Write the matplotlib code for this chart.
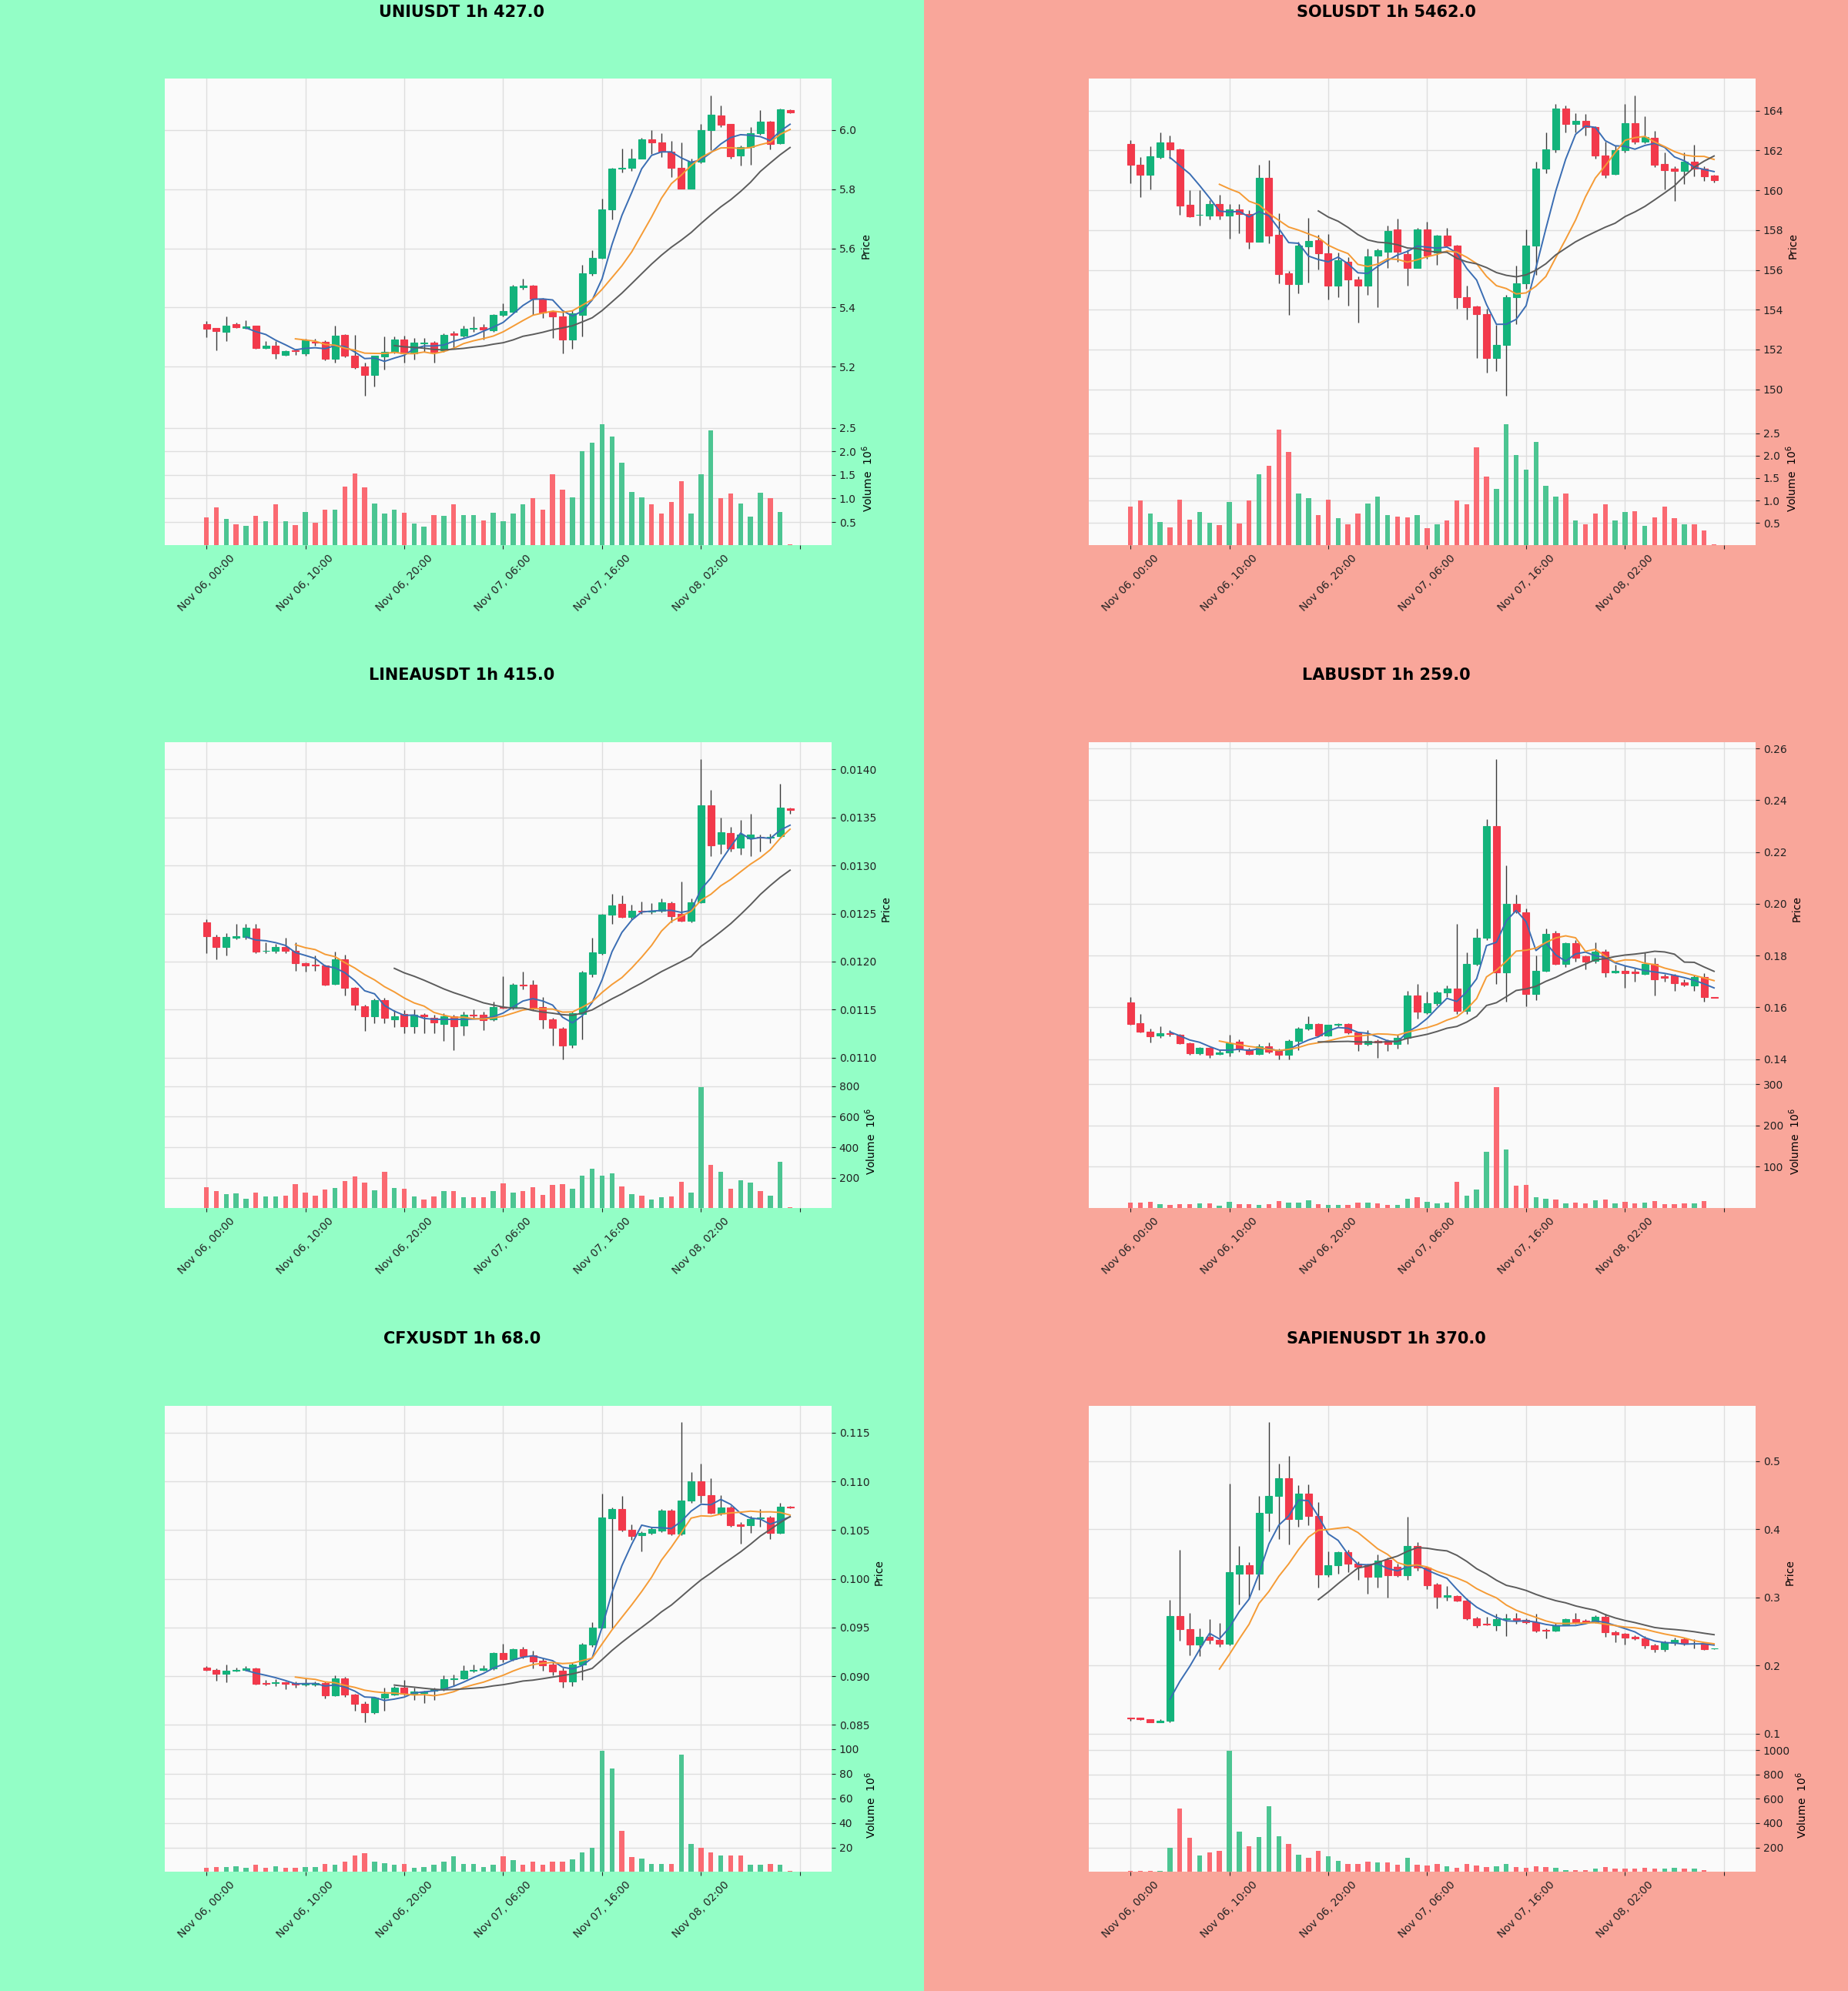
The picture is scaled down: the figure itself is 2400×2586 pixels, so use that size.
import numpy as np
import pandas as pd
import matplotlib
matplotlib.use("Agg")
import matplotlib.pyplot as plt
from matplotlib.patches import Rectangle
from matplotlib.ticker import MultipleLocator, FormatStrFormatter, FixedLocator

# ---------------- data ----------------
START = "2025-11-06 00:00"
N_BARS = 60

UNI_TITLE = "UNIUSDT 1h 427.0"
UNI_OPEN = [5.344, 5.330, 5.318, 5.344, 5.330, 5.338, 5.263, 5.271, 5.241, 5.256,
            5.245, 5.285, 5.285, 5.228, 5.308, 5.236, 5.200, 5.171, 5.234, 5.251,
            5.291, 5.245, 5.278, 5.282, 5.256, 5.312, 5.306, 5.329, 5.333, 5.323,
            5.374, 5.385, 5.470, 5.474, 5.431, 5.385, 5.371, 5.292, 5.374, 5.515,
            5.568, 5.732, 5.869, 5.872, 5.903, 5.969, 5.959, 5.928, 5.872, 5.802,
            5.892, 6.000, 6.049, 6.021, 5.915, 5.942, 5.990, 6.029, 5.956, 6.067]
UNI_HIGH = [5.354, 5.331, 5.369, 5.349, 5.357, 5.339, 5.287, 5.287, 5.256, 5.262,
            5.295, 5.295, 5.289, 5.338, 5.310, 5.308, 5.215, 5.238, 5.302, 5.302,
            5.305, 5.297, 5.297, 5.287, 5.313, 5.320, 5.338, 5.369, 5.344, 5.379,
            5.415, 5.477, 5.497, 5.477, 5.433, 5.392, 5.390, 5.390, 5.544, 5.595,
            5.769, 5.872, 5.938, 5.938, 5.974, 6.000, 5.990, 5.964, 5.959, 5.903,
            6.021, 6.118, 6.082, 6.021, 5.949, 6.010, 6.067, 6.031, 6.072, 6.069]
UNI_LOW = [5.300, 5.256, 5.287, 5.331, 5.328, 5.260, 5.260, 5.226, 5.238, 5.240,
           5.236, 5.270, 5.221, 5.215, 5.231, 5.193, 5.103, 5.133, 5.190, 5.244,
           5.215, 5.225, 5.251, 5.215, 5.251, 5.260, 5.300, 5.318, 5.292, 5.318,
           5.369, 5.382, 5.462, 5.374, 5.364, 5.297, 5.244, 5.260, 5.303, 5.508,
           5.564, 5.697, 5.856, 5.862, 5.903, 5.918, 5.908, 5.841, 5.802, 5.802,
           5.887, 5.933, 6.010, 5.903, 5.880, 5.882, 5.985, 5.935, 5.954, 6.058]
UNI_CLOSE = [5.328, 5.320, 5.340, 5.333, 5.336, 5.264, 5.272, 5.244, 5.254, 5.252,
             5.289, 5.282, 5.228, 5.306, 5.236, 5.197, 5.171, 5.236, 5.251, 5.291,
             5.245, 5.282, 5.282, 5.251, 5.308, 5.308, 5.328, 5.331, 5.326, 5.376,
             5.388, 5.472, 5.473, 5.431, 5.382, 5.371, 5.292, 5.380, 5.515, 5.569,
             5.732, 5.869, 5.872, 5.903, 5.969, 5.959, 5.928, 5.872, 5.802, 5.894,
             6.000, 6.051, 6.018, 5.911, 5.942, 5.990, 6.028, 5.952, 6.069, 6.059]
UNI_VOL = [0.60, 0.81, 0.57, 0.45, 0.42, 0.63, 0.51, 0.88, 0.51, 0.43,
           0.71, 0.49, 0.76, 0.76, 1.26, 1.53, 1.24, 0.90, 0.68, 0.77,
           0.69, 0.46, 0.40, 0.64, 0.63, 0.87, 0.65, 0.64, 0.53, 0.69,
           0.51, 0.68, 0.87, 1.00, 0.77, 1.51, 1.18, 1.02, 2.01, 2.18,
           2.58, 2.31, 1.76, 1.13, 1.03, 0.87, 0.68, 0.93, 1.36, 0.68,
           1.51, 2.44, 1.00, 1.10, 0.90, 0.62, 1.12, 1.00, 0.71, 0.03]

SOL_TITLE = "SOLUSDT 1h 5462.0"
SOL_OPEN = [162.34, 161.30, 160.76, 161.68, 162.41, 162.06, 159.27, 158.75, 158.73, 159.31,
            158.73, 159.05, 158.82, 157.40, 160.64, 157.76, 155.83, 155.30, 157.18, 157.48,
            156.84, 155.22, 156.41, 155.53, 155.22, 156.72, 156.92, 158.02, 156.79, 156.08,
            158.02, 156.87, 157.71, 157.22, 154.61, 154.17, 153.79, 151.56, 152.24, 154.63,
            155.34, 157.22, 161.10, 162.06, 164.09, 163.33, 163.47, 163.18, 161.73, 160.81,
            162.03, 163.36, 162.44, 162.63, 161.33, 161.07, 160.96, 161.45, 161.10, 160.73]
SOL_HIGH = [162.52, 161.68, 162.21, 162.90, 162.75, 162.09, 160.00, 160.00, 159.50, 159.77,
            159.31, 159.31, 159.00, 161.27, 161.53, 158.85, 155.95, 157.40, 158.63, 157.76,
            157.79, 156.87, 156.64, 155.68, 157.05, 157.05, 158.24, 158.58, 157.02, 158.09,
            158.43, 157.76, 158.12, 157.25, 155.19, 154.20, 154.05, 153.24, 154.73, 156.23,
            158.02, 161.42, 162.90, 164.35, 164.27, 163.89, 163.82, 163.21, 162.44, 162.24,
            164.32, 164.78, 163.71, 162.98, 161.91, 161.22, 161.91, 162.29, 161.22, 160.76]
SOL_LOW = [160.35, 159.65, 160.05, 161.60, 161.60, 158.78, 158.67, 158.21, 158.55, 158.55,
           157.56, 157.85, 157.05, 157.40, 157.33, 155.34, 153.74, 154.81, 155.37, 156.03,
           154.50, 154.61, 154.20, 153.36, 154.76, 154.12, 156.11, 156.41, 155.19, 156.08,
           156.56, 156.26, 157.18, 154.05, 153.51, 151.56, 150.84, 150.92, 149.69, 153.28,
           155.04, 155.73, 160.84, 161.91, 162.90, 162.90, 162.75, 161.60, 160.61, 160.76,
           161.91, 162.34, 162.37, 161.18, 160.05, 159.47, 160.31, 160.69, 160.46, 160.38]
SOL_CLOSE = [161.30, 160.76, 161.71, 162.41, 162.06, 159.24, 158.70, 158.78, 159.31, 158.73,
             159.04, 158.82, 157.40, 160.64, 157.71, 155.80, 155.30, 157.22, 157.44, 156.84,
             155.22, 156.49, 155.53, 155.19, 156.67, 156.99, 157.97, 156.92, 156.08, 158.02,
             156.72, 157.71, 157.21, 154.61, 154.12, 153.79, 151.56, 152.24, 154.63, 155.34,
             157.22, 161.10, 162.06, 164.09, 163.33, 163.47, 163.18, 161.73, 160.76, 162.03,
             163.36, 162.44, 162.67, 161.30, 161.02, 160.96, 161.45, 161.07, 160.72, 160.50]
SOL_VOL = [0.86, 1.01, 0.71, 0.53, 0.41, 1.02, 0.57, 0.74, 0.50, 0.45,
           0.97, 0.49, 1.01, 1.59, 1.77, 2.57, 2.08, 1.15, 1.06, 0.68,
           1.02, 0.61, 0.48, 0.72, 0.94, 1.08, 0.68, 0.64, 0.63, 0.68,
           0.39, 0.47, 0.55, 1.00, 0.92, 2.19, 1.53, 1.26, 2.70, 2.02,
           1.68, 2.31, 1.32, 1.09, 1.15, 0.55, 0.48, 0.71, 0.92, 0.55,
           0.74, 0.76, 0.43, 0.63, 0.86, 0.61, 0.48, 0.47, 0.34, 0.03]

LINEA_TITLE = "LINEAUSDT 1h 415.0"
LINEA_OPEN = [124.05e-4, 122.54e-4, 121.53e-4, 122.50e-4, 122.54e-4, 123.42e-4, 121.10e-4, 121.15e-4, 121.53e-4, 121.12e-4,
              119.86e-4, 119.70e-4, 119.57e-4, 117.68e-4, 120.20e-4, 117.27e-4, 115.38e-4, 114.30e-4, 116.00e-4, 113.96e-4,
              114.53e-4, 113.27e-4, 114.43e-4, 114.12e-4, 113.50e-4, 114.34e-4, 113.33e-4, 114.45e-4, 114.43e-4, 113.96e-4,
              115.30e-4, 115.22e-4, 117.60e-4, 117.59e-4, 115.28e-4, 114.02e-4, 113.01e-4, 111.34e-4, 114.53e-4, 118.75e-4,
              120.90e-4, 124.84e-4, 126.00e-4, 124.62e-4, 125.30e-4, 125.20e-4, 125.32e-4, 126.10e-4, 124.94e-4, 124.21e-4,
              126.20e-4, 136.29e-4, 132.26e-4, 133.36e-4, 131.88e-4, 132.80e-4, 133.00e-4, 132.90e-4, 133.04e-4, 135.90e-4]
LINEA_HIGH = [124.37e-4, 122.79e-4, 122.95e-4, 123.90e-4, 123.90e-4, 123.90e-4, 122.00e-4, 121.85e-4, 122.50e-4, 122.00e-4,
              119.95e-4, 120.60e-4, 119.64e-4, 121.06e-4, 120.74e-4, 117.37e-4, 115.54e-4, 116.17e-4, 116.23e-4, 114.91e-4,
              114.91e-4, 115.06e-4, 114.60e-4, 114.43e-4, 114.60e-4, 114.43e-4, 114.75e-4, 115.06e-4, 114.75e-4, 115.85e-4,
              118.50e-4, 117.74e-4, 118.94e-4, 118.06e-4, 116.32e-4, 114.12e-4, 113.17e-4, 114.75e-4, 119.01e-4, 122.48e-4,
              125.00e-4, 127.05e-4, 126.89e-4, 125.95e-4, 126.26e-4, 126.10e-4, 126.58e-4, 126.26e-4, 128.31e-4, 126.58e-4,
              141.10e-4, 137.87e-4, 134.94e-4, 134.00e-4, 134.72e-4, 135.40e-4, 133.20e-4, 133.30e-4, 138.50e-4, 135.98e-4]
LINEA_LOW = [120.90e-4, 120.27e-4, 120.65e-4, 122.30e-4, 122.30e-4, 120.90e-4, 120.90e-4, 120.90e-4, 120.90e-4, 119.00e-4,
             118.94e-4, 119.00e-4, 117.49e-4, 117.60e-4, 116.48e-4, 114.91e-4, 112.77e-4, 113.60e-4, 113.60e-4, 113.17e-4,
             112.54e-4, 112.54e-4, 112.54e-4, 112.54e-4, 111.75e-4, 110.80e-4, 112.30e-4, 114.10e-4, 112.85e-4, 113.80e-4,
             115.10e-4, 115.06e-4, 117.10e-4, 114.91e-4, 113.00e-4, 111.28e-4, 109.86e-4, 111.06e-4, 111.90e-4, 118.38e-4,
             120.74e-4, 123.90e-4, 124.53e-4, 124.37e-4, 125.00e-4, 125.00e-4, 125.16e-4, 124.05e-4, 124.12e-4, 124.05e-4,
             126.10e-4, 131.00e-4, 131.20e-4, 131.47e-4, 131.15e-4, 131.00e-4, 131.47e-4, 132.30e-4, 132.95e-4, 135.40e-4]
LINEA_CLOSE = [122.63e-4, 121.53e-4, 122.54e-4, 122.60e-4, 123.49e-4, 121.06e-4, 121.15e-4, 121.53e-4, 121.15e-4, 119.80e-4,
               119.57e-4, 119.57e-4, 117.59e-4, 120.20e-4, 117.27e-4, 115.47e-4, 114.28e-4, 116.00e-4, 114.12e-4, 114.34e-4,
               113.27e-4, 114.43e-4, 114.28e-4, 113.64e-4, 114.34e-4, 113.27e-4, 114.43e-4, 114.40e-4, 113.90e-4, 115.28e-4,
               115.20e-4, 117.59e-4, 117.50e-4, 115.16e-4, 114.02e-4, 113.08e-4, 111.28e-4, 114.59e-4, 118.85e-4, 120.96e-4,
               124.84e-4, 125.88e-4, 124.62e-4, 125.25e-4, 125.20e-4, 125.30e-4, 126.20e-4, 124.68e-4, 124.21e-4, 126.20e-4,
               136.29e-4, 132.10e-4, 133.45e-4, 131.78e-4, 133.20e-4, 133.20e-4, 132.90e-4, 133.00e-4, 136.04e-4, 135.80e-4]
LINEA_VOL = [139, 115, 90, 96, 60, 103, 76, 76, 84, 159,
             103, 84, 125, 131, 179, 209, 169, 119, 239, 131,
             129, 76, 56, 76, 113, 113, 70, 74, 74, 113,
             163, 100, 113, 139, 86, 153, 159, 129, 215, 259,
             215, 227, 143, 94, 80, 56, 70, 76, 175, 103,
             796, 283, 237, 129, 183, 169, 115, 80, 302, 6]

LAB_TITLE = "LABUSDT 1h 259.0"
LAB_OPEN = [161.86e-3, 153.95e-3, 150.47e-3, 148.95e-3, 150.10e-3, 149.30e-3, 146.16e-3, 142.33e-3, 144.30e-3, 141.98e-3,
            142.67e-3, 146.63e-3, 143.84e-3, 141.98e-3, 145.00e-3, 143.14e-3, 141.74e-3, 146.98e-3, 151.63e-3, 153.60e-3,
            148.95e-3, 153.14e-3, 153.60e-3, 150.12e-3, 145.81e-3, 146.98e-3, 146.98e-3, 145.81e-3, 148.14e-3, 164.65e-3,
            158.02e-3, 161.51e-3, 165.81e-3, 167.09e-3, 158.60e-3, 176.86e-3, 186.74e-3, 229.88e-3, 173.49e-3, 200.00e-3,
            196.74e-3, 165.23e-3, 174.07e-3, 188.72e-3, 176.86e-3, 184.77e-3, 179.65e-3, 177.91e-3, 181.40e-3, 173.60e-3,
            174.20e-3, 173.70e-3, 172.79e-3, 176.74e-3, 172.10e-3, 172.21e-3, 169.65e-3, 168.49e-3, 171.74e-3, 163.90e-3]
LAB_HIGH = [163.84e-3, 157.44e-3, 151.63e-3, 152.79e-3, 151.05e-3, 149.65e-3, 146.40e-3, 144.65e-3, 144.65e-3, 143.50e-3,
            149.30e-3, 147.56e-3, 144.30e-3, 145.81e-3, 146.40e-3, 144.07e-3, 147.56e-3, 152.44e-3, 156.63e-3, 153.95e-3,
            153.37e-3, 153.84e-3, 153.95e-3, 150.47e-3, 151.05e-3, 147.56e-3, 147.56e-3, 149.30e-3, 166.40e-3, 169.07e-3,
            166.16e-3, 166.40e-3, 168.49e-3, 192.33e-3, 181.16e-3, 190.35e-3, 232.67e-3, 256.05e-3, 214.77e-3, 203.49e-3,
            198.26e-3, 179.88e-3, 190.58e-3, 189.42e-3, 185.00e-3, 185.93e-3, 180.12e-3, 185.23e-3, 182.33e-3, 176.40e-3,
            176.30e-3, 174.90e-3, 181.16e-3, 179.07e-3, 172.90e-3, 172.91e-3, 170.80e-3, 172.56e-3, 173.14e-3, 164.00e-3]
LAB_LOW = [153.37e-3, 150.12e-3, 146.40e-3, 148.14e-3, 148.72e-3, 145.81e-3, 141.74e-3, 141.74e-3, 140.58e-3, 141.50e-3,
           141.16e-3, 142.91e-3, 141.50e-3, 141.50e-3, 142.30e-3, 140.00e-3, 140.00e-3, 143.50e-3, 151.05e-3, 148.72e-3,
           148.72e-3, 152.79e-3, 149.65e-3, 143.14e-3, 145.23e-3, 140.58e-3, 143.14e-3, 144.07e-3, 145.81e-3, 155.70e-3,
           157.44e-3, 160.58e-3, 163.84e-3, 157.44e-3, 157.44e-3, 176.05e-3, 185.93e-3, 169.07e-3, 162.09e-3, 196.28e-3,
           160.35e-3, 162.67e-3, 173.72e-3, 176.40e-3, 175.47e-3, 177.79e-3, 174.65e-3, 177.09e-3, 171.63e-3, 173.10e-3,
           167.60e-3, 169.80e-3, 172.44e-3, 164.42e-3, 169.80e-3, 166.40e-3, 168.26e-3, 166.40e-3, 162.09e-3, 163.70e-3]
LAB_CLOSE = [153.60e-3, 150.47e-3, 148.72e-3, 149.88e-3, 149.65e-3, 146.16e-3, 142.33e-3, 144.30e-3, 141.74e-3, 142.67e-3,
             146.05e-3, 144.07e-3, 141.98e-3, 145.00e-3, 142.91e-3, 141.74e-3, 146.98e-3, 151.63e-3, 153.60e-3, 148.95e-3,
             153.14e-3, 153.60e-3, 150.12e-3, 145.81e-3, 146.98e-3, 146.40e-3, 145.81e-3, 148.14e-3, 164.65e-3, 158.26e-3,
             161.51e-3, 165.81e-3, 167.09e-3, 158.60e-3, 176.86e-3, 186.74e-3, 229.88e-3, 173.49e-3, 200.00e-3, 197.09e-3,
             165.00e-3, 174.07e-3, 188.49e-3, 176.63e-3, 184.77e-3, 179.19e-3, 177.56e-3, 181.40e-3, 173.60e-3, 174.20e-3,
             173.30e-3, 173.10e-3, 176.74e-3, 170.93e-3, 171.50e-3, 169.42e-3, 168.72e-3, 171.63e-3, 163.84e-3, 163.80e-3]
LAB_VOL = [13, 13, 15, 10, 7, 9, 10, 11, 11, 6,
           15, 10, 10, 7, 10, 17, 13, 13, 19, 10,
           8, 8, 7, 13, 13, 11, 8, 7, 22, 26,
           15, 11, 13, 64, 30, 44, 137, 294, 142, 54,
           57, 26, 22, 20, 11, 13, 11, 19, 21, 11,
           15, 11, 14, 17, 10, 10, 11, 11, 17, 0.5]

CFX_TITLE = "CFXUSDT 1h 68.0"
CFX_OPEN = [90.90e-3, 90.65e-3, 90.22e-3, 90.59e-3, 90.65e-3, 90.78e-3, 89.28e-3, 89.30e-3, 89.35e-3, 89.28e-3,
            89.13e-3, 89.15e-3, 89.28e-3, 88.04e-3, 89.75e-3, 88.10e-3, 87.17e-3, 86.26e-3, 87.79e-3, 88.10e-3,
            88.82e-3, 88.19e-3, 88.30e-3, 88.50e-3, 88.66e-3, 89.70e-3, 89.75e-3, 90.53e-3, 90.65e-3, 90.78e-3,
            92.40e-3, 91.71e-3, 92.77e-3, 92.15e-3, 91.62e-3, 91.21e-3, 90.53e-3, 89.44e-3, 91.21e-3, 93.27e-3,
            94.98e-3, 106.20e-3, 107.20e-3, 105.02e-3, 104.45e-3, 104.70e-3, 104.92e-3, 107.04e-3, 104.61e-3, 108.04e-3,
            110.00e-3, 108.60e-3, 106.67e-3, 107.35e-3, 105.55e-3, 105.48e-3, 106.20e-3, 106.26e-3, 104.70e-3, 107.41e-3]
CFX_HIGH = [91.00e-3, 90.78e-3, 91.21e-3, 90.90e-3, 91.00e-3, 90.84e-3, 89.60e-3, 89.66e-3, 89.44e-3, 89.44e-3,
            89.75e-3, 89.44e-3, 89.44e-3, 90.06e-3, 89.91e-3, 88.19e-3, 87.41e-3, 87.88e-3, 88.82e-3, 88.97e-3,
            89.60e-3, 88.82e-3, 88.50e-3, 88.82e-3, 90.06e-3, 90.20e-3, 91.15e-3, 91.21e-3, 91.15e-3, 92.46e-3,
            93.33e-3, 92.87e-3, 93.02e-3, 92.65e-3, 91.84e-3, 91.40e-3, 90.90e-3, 91.40e-3, 93.40e-3, 95.58e-3,
            108.75e-3, 107.35e-3, 108.54e-3, 105.55e-3, 104.86e-3, 105.33e-3, 107.20e-3, 107.20e-3, 116.07e-3, 110.93e-3,
            111.87e-3, 110.31e-3, 108.60e-3, 107.51e-3, 105.80e-3, 106.42e-3, 107.20e-3, 106.42e-3, 107.82e-3, 107.48e-3]
CFX_LOW = [90.53e-3, 89.53e-3, 89.35e-3, 90.47e-3, 90.53e-3, 89.13e-3, 89.03e-3, 88.97e-3, 88.66e-3, 88.82e-3,
           88.97e-3, 88.97e-3, 87.73e-3, 87.98e-3, 87.88e-3, 86.48e-3, 85.23e-3, 86.17e-3, 86.48e-3, 88.04e-3,
           88.04e-3, 87.57e-3, 87.26e-3, 87.57e-3, 88.50e-3, 88.97e-3, 89.66e-3, 90.37e-3, 90.53e-3, 90.68e-3,
           91.46e-3, 91.62e-3, 91.84e-3, 90.78e-3, 90.53e-3, 90.06e-3, 88.82e-3, 88.97e-3, 89.60e-3, 93.02e-3,
           94.89e-3, 94.89e-3, 104.86e-3, 103.99e-3, 102.83e-3, 104.55e-3, 104.80e-3, 104.49e-3, 104.49e-3, 107.82e-3,
           107.82e-3, 106.67e-3, 106.57e-3, 105.33e-3, 103.61e-3, 104.70e-3, 105.33e-3, 104.08e-3, 104.61e-3, 107.23e-3]
CFX_CLOSE = [90.65e-3, 90.28e-3, 90.59e-3, 90.68e-3, 90.78e-3, 89.22e-3, 89.19e-3, 89.35e-3, 89.22e-3, 89.13e-3,
             89.28e-3, 89.28e-3, 88.04e-3, 89.75e-3, 88.10e-3, 87.17e-3, 86.26e-3, 87.79e-3, 88.19e-3, 88.82e-3,
             88.19e-3, 88.41e-3, 88.35e-3, 88.66e-3, 89.66e-3, 89.75e-3, 90.53e-3, 90.68e-3, 90.78e-3, 92.40e-3,
             91.71e-3, 92.77e-3, 92.09e-3, 91.53e-3, 91.09e-3, 90.47e-3, 89.44e-3, 91.21e-3, 93.27e-3, 94.98e-3,
             106.26e-3, 107.20e-3, 105.02e-3, 104.39e-3, 104.70e-3, 105.08e-3, 107.04e-3, 104.61e-3, 108.04e-3, 110.00e-3,
             108.60e-3, 106.79e-3, 107.35e-3, 105.48e-3, 105.42e-3, 106.17e-3, 106.26e-3, 104.70e-3, 107.41e-3, 107.29e-3]
CFX_VOL = [3.2, 4.2, 4.2, 4.7, 3.2, 5.7, 3.2, 4.7, 3.2, 3.2,
           4.2, 4.2, 6.7, 5.7, 8.2, 13.7, 15.2, 8.2, 7.0, 6.2,
           6.7, 3.7, 4.2, 5.7, 8.2, 12.7, 6.7, 6.7, 4.2, 6.2,
           12.7, 9.5, 5.7, 8.2, 5.7, 8.2, 8.7, 10.0, 16.2, 19.9,
           98.8, 84.6, 33.6, 11.9, 11.2, 6.7, 6.7, 6.7, 95.8, 22.6,
           19.4, 16.2, 13.7, 13.2, 13.2, 6.2, 6.2, 6.7, 5.7, 0.7]

SAPIEN_TITLE = "SAPIENUSDT 1h 370.0"
SAPIEN_OPEN = [12.30e-2, 12.30e-2, 12.07e-2, 11.71e-2, 11.84e-2, 27.29e-2, 25.33e-2, 23.10e-2, 24.17e-2, 23.72e-2,
               23.19e-2, 33.43e-2, 34.76e-2, 33.43e-2, 42.42e-2, 44.91e-2, 47.45e-2, 41.44e-2, 45.18e-2, 41.97e-2,
               33.34e-2, 34.67e-2, 36.63e-2, 34.98e-2, 34.76e-2, 33.07e-2, 35.56e-2, 34.54e-2, 33.20e-2, 37.52e-2,
               34.32e-2, 31.87e-2, 30.09e-2, 30.22e-2, 29.51e-2, 26.97e-2, 26.10e-2, 25.95e-2, 26.75e-2, 26.97e-2,
               26.66e-2, 26.40e-2, 25.20e-2, 25.06e-2, 25.95e-2, 26.75e-2, 26.62e-2, 26.40e-2, 27.20e-2, 24.88e-2,
               24.62e-2, 24.17e-2, 23.99e-2, 22.97e-2, 22.39e-2, 23.28e-2, 23.86e-2, 23.15e-2, 23.28e-2, 22.50e-2]
SAPIEN_HIGH = [12.40e-2, 12.37e-2, 12.15e-2, 12.07e-2, 29.64e-2, 36.99e-2, 27.73e-2, 25.42e-2, 26.75e-2, 26.22e-2,
               46.69e-2, 37.52e-2, 35.21e-2, 44.91e-2, 55.68e-2, 49.67e-2, 50.78e-2, 46.42e-2, 46.56e-2, 44.02e-2,
               36.76e-2, 36.76e-2, 36.99e-2, 35.30e-2, 34.98e-2, 36.32e-2, 35.87e-2, 34.98e-2, 41.88e-2, 38.10e-2,
               34.41e-2, 32.09e-2, 31.65e-2, 30.31e-2, 29.87e-2, 27.20e-2, 27.20e-2, 27.64e-2, 27.64e-2, 27.73e-2,
               26.97e-2, 27.64e-2, 25.42e-2, 26.22e-2, 26.97e-2, 27.73e-2, 26.75e-2, 27.42e-2, 27.64e-2, 25.06e-2,
               24.75e-2, 24.44e-2, 24.30e-2, 23.19e-2, 23.64e-2, 24.08e-2, 24.08e-2, 23.86e-2, 23.41e-2, 22.55e-2]
SAPIEN_LOW = [11.85e-2, 11.98e-2, 11.62e-2, 11.62e-2, 11.71e-2, 23.64e-2, 21.50e-2, 21.41e-2, 23.19e-2, 22.75e-2,
              22.97e-2, 28.98e-2, 29.87e-2, 31.11e-2, 39.66e-2, 38.54e-2, 37.79e-2, 40.32e-2, 40.55e-2, 31.42e-2,
              33.07e-2, 33.43e-2, 33.65e-2, 32.54e-2, 30.53e-2, 31.42e-2, 30.00e-2, 32.98e-2, 32.54e-2, 33.96e-2,
              31.20e-2, 28.44e-2, 29.51e-2, 29.42e-2, 26.66e-2, 25.51e-2, 25.86e-2, 25.06e-2, 24.30e-2, 26.08e-2,
              26.08e-2, 24.88e-2, 23.99e-2, 24.97e-2, 25.86e-2, 26.08e-2, 26.22e-2, 26.22e-2, 24.17e-2, 23.41e-2,
              23.10e-2, 23.72e-2, 22.52e-2, 21.94e-2, 22.08e-2, 22.97e-2, 22.97e-2, 22.52e-2, 22.30e-2, 22.45e-2]
SAPIEN_CLOSE = [12.28e-2, 12.07e-2, 11.71e-2, 11.93e-2, 27.29e-2, 25.33e-2, 23.10e-2, 24.17e-2, 23.72e-2, 23.19e-2,
                33.65e-2, 34.76e-2, 33.43e-2, 42.42e-2, 44.91e-2, 47.45e-2, 41.44e-2, 45.18e-2, 41.97e-2, 33.34e-2,
                34.67e-2, 36.63e-2, 34.98e-2, 34.54e-2, 33.07e-2, 35.43e-2, 33.20e-2, 33.20e-2, 37.52e-2, 34.32e-2,
                31.74e-2, 30.09e-2, 30.31e-2, 29.51e-2, 26.97e-2, 25.95e-2, 26.05e-2, 26.84e-2, 26.97e-2, 26.66e-2,
                26.31e-2, 25.06e-2, 25.15e-2, 25.95e-2, 26.75e-2, 26.40e-2, 26.40e-2, 27.20e-2, 24.88e-2, 24.53e-2,
                24.08e-2, 23.99e-2, 22.97e-2, 22.39e-2, 23.41e-2, 23.72e-2, 23.19e-2, 23.19e-2, 22.39e-2, 22.52e-2]
SAPIEN_VOL = [5, 5, 7, 7, 195, 517, 280, 137, 157, 175,
              995, 330, 212, 287, 537, 292, 230, 142, 117, 175,
              125, 87, 62, 67, 82, 80, 80, 57, 117, 57,
              50, 67, 45, 32, 62, 50, 42, 45, 62, 42,
              32, 45, 42, 32, 17, 17, 12, 27, 42, 25,
              25, 25, 32, 25, 25, 32, 25, 25, 17, 2]

MAV_WINDOWS = [5, 10, 20]

# ---------------- style ----------------
BG_LEFT = "#93fec6"
BG_RIGHT = "#f9a69a"
FACE = "#fafafa"
GRID = "#dedede"
UP, DOWN = "#13b37b", "#f2394b"
VUP, VDOWN = "#4cc592", "#fa6a72"
WICK = "#3a3a3a"
MAV_COLORS = ["#3a6db3", "#f59b35", "#5c5c5c"]

fig = plt.figure(figsize=(24, 25.86), dpi=100)
fig.patches.append(Rectangle((0, 0), 0.5, 1, transform=fig.transFigure,
                             facecolor=BG_LEFT, edgecolor="none", zorder=-10))
fig.patches.append(Rectangle((0.5, 0), 0.5, 1, transform=fig.transFigure,
                             facecolor=BG_RIGHT, edgecolor="none", zorder=-10))

COL_X = [0.0892, 0.5892]
AX_W = 0.3608
ROW_PRICE_BOTTOM = [0.7931, 0.4598, 0.1265]
ROW_VOL_BOTTOM = [0.7262, 0.3933, 0.0599]
PRICE_H = 0.1674
VOL_H = 0.0669
TITLE_Y = [0.9938, 0.6610, 0.3275]

dates = pd.date_range(START, periods=N_BARS, freq="h")
x = np.arange(N_BARS)
tick_pos = np.arange(0, 61, 10)
tick_lab = [dates[i].strftime("%b %d, %H:%M") if i < N_BARS else "" for i in tick_pos]

charts = [
    (0, 0, UNI_TITLE, UNI_OPEN, UNI_HIGH, UNI_LOW, UNI_CLOSE, UNI_VOL, 0.2, "%.1f", 0.5, "%.1f"),
    (1, 0, SOL_TITLE, SOL_OPEN, SOL_HIGH, SOL_LOW, SOL_CLOSE, SOL_VOL, 2, "%.0f", 0.5, "%.1f"),
    (0, 1, LINEA_TITLE, LINEA_OPEN, LINEA_HIGH, LINEA_LOW, LINEA_CLOSE, LINEA_VOL, 0.0005, "%.4f", 200, "%.0f"),
    (1, 1, LAB_TITLE, LAB_OPEN, LAB_HIGH, LAB_LOW, LAB_CLOSE, LAB_VOL, 0.02, "%.2f", 100, "%.0f"),
    (0, 2, CFX_TITLE, CFX_OPEN, CFX_HIGH, CFX_LOW, CFX_CLOSE, CFX_VOL, 0.005, "%.3f", 20, "%.0f"),
    (1, 2, SAPIEN_TITLE, SAPIEN_OPEN, SAPIEN_HIGH, SAPIEN_LOW, SAPIEN_CLOSE, SAPIEN_VOL, 0.1, "%.1f", 200, "%.0f"),
]

for col, row, title, o, h, l, c, v, ystep, yfmt, vstep, vfmt in charts:
    o, h, l, c, v = map(np.asarray, (o, h, l, c, v))
    axp = fig.add_axes([COL_X[col], ROW_PRICE_BOTTOM[row], AX_W, PRICE_H])
    axv = fig.add_axes([COL_X[col], ROW_VOL_BOTTOM[row], AX_W, VOL_H], sharex=axp)

    for ax in (axp, axv):
        ax.set_facecolor(FACE)
        ax.grid(True, color=GRID, lw=1.0)
        ax.set_axisbelow(True)
        for sp in ax.spines.values():
            sp.set_visible(False)
        ax.yaxis.tick_right()
        ax.yaxis.set_label_position("right")
        ax.tick_params(axis="both", labelsize=10, colors="#222222")

    up = c >= o
    ccol = np.where(up, UP, DOWN)
    axp.vlines(x, l, h, color=WICK, lw=1.0, zorder=2)
    axp.bar(x, np.abs(c - o), bottom=np.minimum(o, c), width=0.7,
            color=ccol, edgecolor=ccol, linewidth=0.8, zorder=3)
    closes = pd.Series(c)
    for w, mc in zip(MAV_WINDOWS, MAV_COLORS):
        axp.plot(x, closes.rolling(w).mean().to_numpy(), color=mc, lw=1.4, zorder=4)

    rng = h.max() - l.min()
    axp.set_ylim(l.min() - 0.055 * rng, h.max() + 0.055 * rng)
    axp.yaxis.set_major_locator(MultipleLocator(ystep))
    axp.yaxis.set_major_formatter(FormatStrFormatter(yfmt))
    axp.set_ylabel("Price", fontsize=10)
    axp.tick_params(axis="x", labelbottom=False, length=0)

    axv.bar(x, v, width=0.5, color=np.where(up, VUP, VDOWN), zorder=3)
    axv.set_ylim(0.3 * v.min(), 1.1 * v.max())
    axv.yaxis.set_major_locator(MultipleLocator(vstep))
    axv.yaxis.set_major_formatter(FormatStrFormatter(vfmt))
    axv.set_ylabel("Volume  $10^6$", fontsize=10)

    axp.set_xlim(-4.2, 63.2)
    axv.xaxis.set_major_locator(FixedLocator(tick_pos))
    axv.set_xticklabels(tick_lab, rotation=45, ha="center", fontsize=10)

    fig.text(0.25 + 0.5 * col, TITLE_Y[row], title, ha="center", va="center",
             fontsize=15, fontweight="bold")

fig.savefig("out.png", dpi=100)
